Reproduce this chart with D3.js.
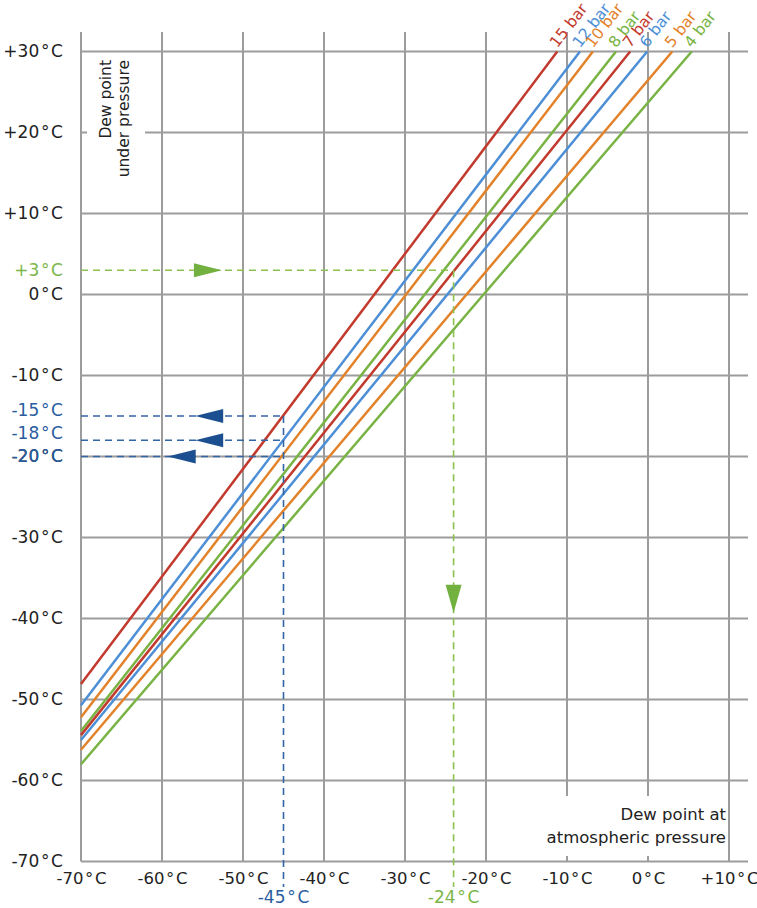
<!DOCTYPE html>
<html>
<head>
<meta charset="utf-8">
<script src="https://cdn.jsdelivr.net/npm/d3@7"></script>
<style>
  body { margin: 0; background: #fff; }
  text { font-family: "DejaVu Sans", sans-serif; }
</style>
</head>
<body>
<svg id="chart" width="757" height="908"></svg>
<script>
// Pressure lines: dew point at atmospheric pressure (x) vs under pressure (y)
const pressures = ['15 bar', '12 bar', '10 bar', '8 bar', '7 bar', '6 bar', '5 bar', '4 bar'];
const lineColors = ['#c23a2d', '#4d8fd6', '#e2822b', '#78b343', '#c23a2d', '#4d8fd6', '#e2822b', '#78b343'];
const startAtm = [-70, -70, -70, -70, -70, -70, -70, -70];
const startPdp = [-48.1, -50.7, -52.2, -53.9, -54.4, -55.0, -56.2, -58.0];
const endAtm = [-11.2, -8.4, -6.8, -3.95, -2.2, -0.1, 3.0, 5.4];
const endPdp = [30, 30, 30, 30, 30, 30, 30, 30];

// Axis ticks
const deg = '\u200A°\u200AC';
const xTicks = [-70, -60, -50, -40, -30, -20, -10, 0, 10];
const xTickLabels = ['-70', '-60', '-50', '-40', '-30', '-20', '-10', '0', '+10'].map(s => s + deg);
const yTicks = [30, 20, 10, 0, -10, -20, -30, -40, -50, -60, -70];
const yTickLabels = ['+30', '+20', '+10', '0', '-10', '-20', '-30', '-40', '-50', '-60', '-70'].map(s => s + deg);

// Reading examples
const blueAtm = -45;
const bluePdp = [-15, -18, -20];
const blueLabels = ['-15', '-18', '-20'].map(s => s + deg);
const blueArrowTip = [-55.9, -55.9, -59.3];
const greenAtm = -24;
const greenPdp = 3;
const greenArrowTip = -52.6;
const greenDownTip = -39.3;

const gridColor = '#9c9c9c';
const blueDash = '#3465a4';
const blueArrow = '#1c4f8f';
const greenDash = '#8cc152';
const greenArrow = '#72b040';
const blueText = '#2a5d9f';
const greenText = '#7ab648';

const svg = d3.select('#chart');

const x = d3.scaleLinear().domain([-70, 10]).range([81, 729]);
const y = d3.scaleLinear().domain([-70, 30]).range([861.5, 51.5]);

const gridTop = 32, gridRight = 748, dashBottom = 887;

// Grid
svg.append('g').selectAll('line')
    .data(xTicks)
    .enter()
    .append('line')
    .attr('x1', d => x(d)).attr('x2', d => x(d))
    .attr('y1', gridTop).attr('y2', y(-70))
    .attr('stroke', gridColor).attr('stroke-width', 2);

svg.append('g').selectAll('line')
    .data(yTicks)
    .enter()
    .append('line')
    .attr('x1', x(-70)).attr('x2', gridRight)
    .attr('y1', d => y(d)).attr('y2', d => y(d))
    .attr('stroke', gridColor).attr('stroke-width', 2);

// White label boxes over the grid
svg.append('rect').attr('x', 87).attr('y', 56).attr('width', 58).attr('height', 114).attr('fill', '#fff');
svg.append('rect').attr('x', 540).attr('y', 796).attr('width', 187).attr('height', 60).attr('fill', '#fff');

// Y axis labels
svg.append('g')
    .attr('transform', `translate(${x(-70) - 18}, 0)`)
    .call(d3.axisLeft(y).tickValues(yTicks).tickSize(0).tickPadding(0)
        .tickFormat((d, i) => yTickLabels[i]))
    .call(g => g.select('.domain').remove())
    .selectAll('text')
    .style('font-family', '"DejaVu Sans", sans-serif')
    .style('font-size', '17px')
    .style('fill', '#222');

// X axis labels
svg.append('g')
    .attr('transform', `translate(0, ${y(-70) + 11})`)
    .call(d3.axisBottom(x).tickValues(xTicks).tickSize(0).tickPadding(0)
        .tickFormat((d, i) => xTickLabels[i]))
    .call(g => g.select('.domain').remove())
    .selectAll('text')
    .style('font-family', '"DejaVu Sans", sans-serif')
    .style('font-size', '16.5px')
    .style('fill', '#222');

// Axis titles
const tl = svg.append('g').style('fill', '#222');
tl.append('text').attr('transform', 'translate(111, 60) rotate(-90)')
    .attr('text-anchor', 'end').style('font-size', '15.5px').text('Dew point');
tl.append('text').attr('transform', 'translate(129, 60) rotate(-90)')
    .attr('text-anchor', 'end').style('font-size', '15.5px').text('under pressure');
tl.append('text').attr('x', 726).attr('y', 820).attr('text-anchor', 'end')
    .style('font-size', '16.5px').text('Dew point at');
tl.append('text').attr('x', 726).attr('y', 843).attr('text-anchor', 'end')
    .style('font-size', '16.5px').text('atmospheric pressure');

// Pressure lines
const lineData = pressures.map((p, i) => ({
    label: p, color: lineColors[i],
    pts: [[startAtm[i], startPdp[i]], [endAtm[i], endPdp[i]]]
}));

svg.append('g').selectAll('path')
    .data(lineData)
    .enter()
    .append('path')
    .attr('d', d => d3.line().x(p => x(p[0])).y(p => y(p[1]))(d.pts))
    .attr('fill', 'none')
    .attr('stroke', d => d.color)
    .attr('stroke-width', 2.5);

svg.append('g').selectAll('text')
    .data(lineData)
    .enter()
    .append('text')
    .attr('transform', d => `translate(${x(d.pts[1][0])}, ${y(d.pts[1][1]) - 3}) rotate(-52)`)
    .style('font-size', '15.5px')
    .style('fill', d => d.color)
    .text(d => d.label);

// Dashed reading lines
const dashed = svg.append('g').attr('fill', 'none').attr('stroke-width', 1.6).attr('stroke-dasharray', '7,5');

bluePdp.forEach(v => {
    dashed.append('line')
        .attr('x1', x(-70)).attr('x2', x(blueAtm))
        .attr('y1', y(v)).attr('y2', y(v))
        .attr('stroke', blueDash);
});
dashed.append('line')
    .attr('x1', x(blueAtm)).attr('x2', x(blueAtm))
    .attr('y1', y(d3.max(bluePdp))).attr('y2', dashBottom)
    .attr('stroke', blueDash);

dashed.append('line')
    .attr('x1', x(-70)).attr('x2', x(greenAtm))
    .attr('y1', y(greenPdp)).attr('y2', y(greenPdp))
    .attr('stroke', greenDash);
dashed.append('line')
    .attr('x1', x(greenAtm)).attr('x2', x(greenAtm))
    .attr('y1', y(greenPdp)).attr('y2', dashBottom)
    .attr('stroke', greenDash);

// Arrow heads
const aLen = 28, aHalf = 7;
bluePdp.forEach((v, i) => {
    const tx = x(blueArrowTip[i]), ty = y(v);
    svg.append('path')
        .attr('d', `M${tx},${ty}L${tx + aLen},${ty - aHalf}L${tx + aLen},${ty + aHalf}Z`)
        .attr('fill', blueArrow);
});
{
    const tx = x(greenArrowTip), ty = y(greenPdp);
    svg.append('path')
        .attr('d', `M${tx},${ty}L${tx - aLen},${ty - aHalf}L${tx - aLen},${ty + aHalf}Z`)
        .attr('fill', greenArrow);
    const dx = x(greenAtm), dy = y(greenDownTip);
    svg.append('path')
        .attr('d', `M${dx},${dy}L${dx - aHalf - 1},${dy - aLen}L${dx + aHalf + 1},${dy - aLen}Z`)
        .attr('fill', greenArrow);
}

// Reading labels (pushed apart when too close)
const lab = svg.append('g').style('font-size', '17px').attr('text-anchor', 'end');
let prevY = Infinity;
bluePdp.map((v, i) => ({ v, i }))
    .sort((a, b) => a.v - b.v)
    .forEach(d => {
        let ly = Math.min(y(d.v), prevY - 23);
        prevY = ly;
        lab.append('text').attr('x', x(-70) - 18).attr('y', ly).attr('dy', '0.35em')
            .style('fill', blueText).text(blueLabels[d.i]);
    });
lab.append('text').attr('x', x(-70) - 18).attr('y', y(greenPdp)).attr('dy', '0.35em')
    .style('fill', greenText).text('+3' + deg);

const bl = svg.append('g').style('font-size', '17px').attr('text-anchor', 'middle');
bl.append('text').attr('x', x(blueAtm)).attr('y', 903).style('fill', blueText).text('-45' + deg);
bl.append('text').attr('x', x(greenAtm)).attr('y', 903).style('fill', greenText).text('-24' + deg);
</script>
</body>
</html>
